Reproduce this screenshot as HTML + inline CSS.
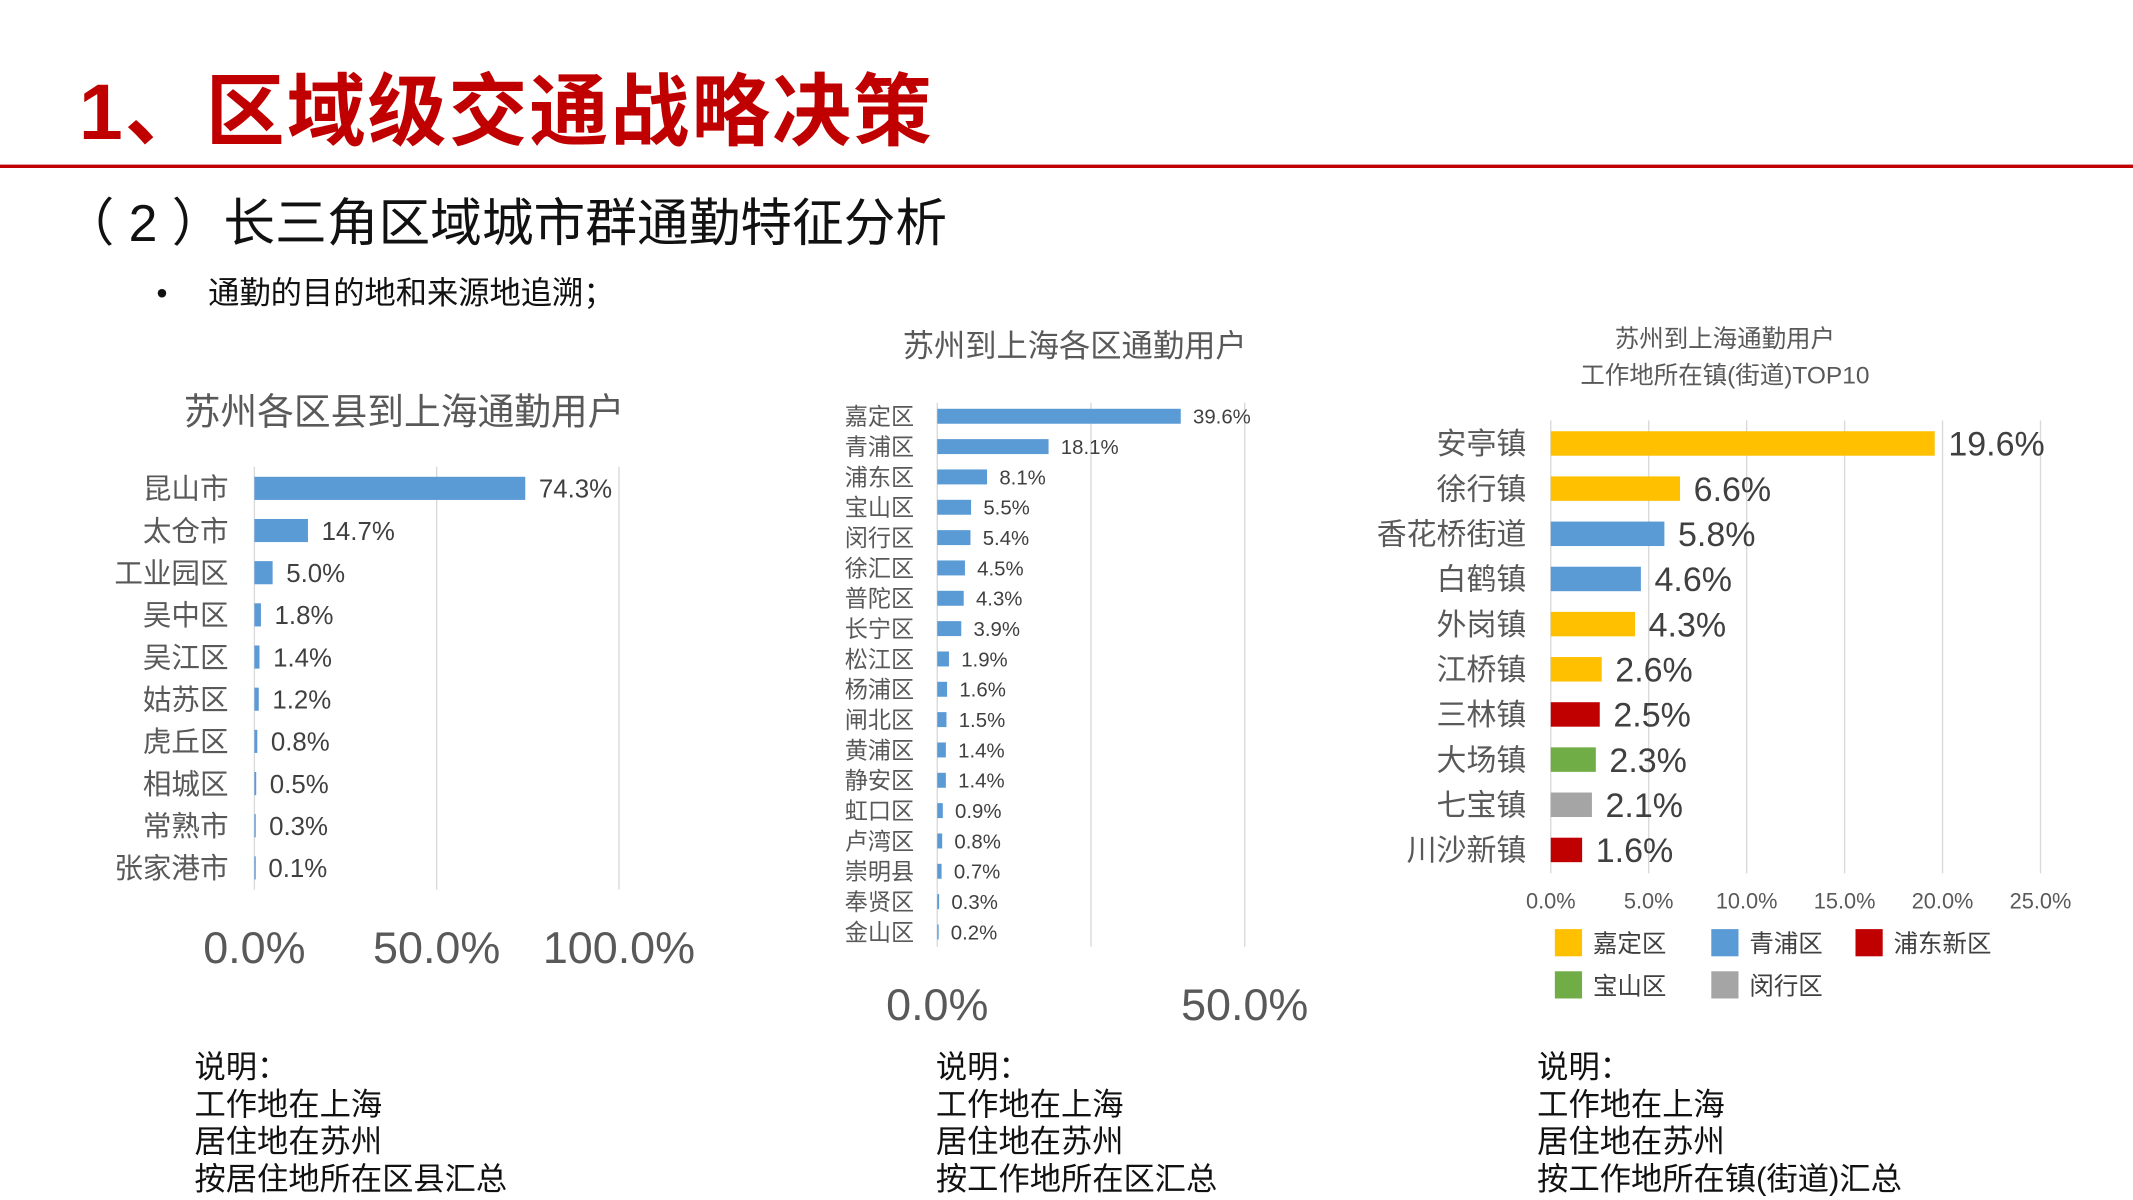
<!DOCTYPE html>
<html><head><meta charset="utf-8"><style>
html,body{margin:0;padding:0;background:#fff;overflow:hidden}
#wrap{width:1568px;height:882px;transform:scale(1.36033);transform-origin:0 0;position:relative}
text{font-family:"Liberation Sans","Noto Sans CJK SC",sans-serif}
</style></head><body>
<div id="wrap">
<svg id="svg" width="1568" height="882" xmlns="http://www.w3.org/2000/svg">
<text x="58" y="102" font-size="58" font-weight="bold" fill="#c00000" letter-spacing="1.5">1、区域级交通战略决策</text>
<rect x="0" y="121" width="1568" height="2.5" fill="#c00000"/>
<text x="46" y="177" font-size="38" fill="#111">（ 2 ）长三角区域城市群通勤特征分析</text>
<text x="115" y="223" font-size="23" fill="#111">•</text>
<text x="153" y="223" font-size="23" fill="#111">通勤的目的地和来源地追溯；</text>
<g id="c1"></g>
<g id="c2"></g>
<g id="c3"></g>
<g id="notes"></g>
</svg></div>
<script>
const c1Cats=["昆山市","太仓市","工业园区","吴中区","吴江区","姑苏区","虎丘区","相城区","常熟市","张家港市"];
const c1Vals=[74.3,14.7,5.0,1.8,1.4,1.2,0.8,0.5,0.3,0.1];
const c1Ticks=[0,50,100];
const c2Cats=["嘉定区","青浦区","浦东区","宝山区","闵行区","徐汇区","普陀区","长宁区","松江区","杨浦区","闸北区","黄浦区","静安区","虹口区","卢湾区","崇明县","奉贤区","金山区"];
const c2Vals=[39.6,18.1,8.1,5.5,5.4,4.5,4.3,3.9,1.9,1.6,1.5,1.4,1.4,0.9,0.8,0.7,0.3,0.2];
const c2Ticks=[0,50];
const c3Cats=["安亭镇","徐行镇","香花桥街道","白鹤镇","外岗镇","江桥镇","三林镇","大场镇","七宝镇","川沙新镇"];
const c3Vals=[19.6,6.6,5.8,4.6,4.3,2.6,2.5,2.3,2.1,1.6];
const c3Groups=["嘉定区","嘉定区","青浦区","青浦区","嘉定区","嘉定区","浦东新区","宝山区","闵行区","浦东新区"];
const c3Ticks=[0,5,10,15,20,25];
const legendNames=["嘉定区","青浦区","浦东新区","宝山区","闵行区"];
const legendColors=["#FFC000","#5B9BD5","#C00000","#70AD47","#A5A5A5"];
const NS="http://www.w3.org/2000/svg";
function mk(p,tag,a,txt){const e=document.createElementNS(NS,tag);for(const k in a)e.setAttribute(k,a[k]);if(txt!==undefined)e.textContent=txt;p.appendChild(e);return e;}
function chart(g,o){
  const sx=v=>o.x0+(v-o.vmin)/(o.vmax-o.vmin)*(o.x1-o.x0);
  const sy=i=>o.yTop+i*o.step;
  o.grid.forEach(v=>{const l=mk(g,"line",{x1:sx(v),x2:sx(v),y1:o.gTop,y2:o.gBot,stroke:"#d9d9d9","stroke-width":1});
    
    });
  o.cats.forEach((c,i)=>{
    const t=mk(g,"text",{x:o.labX,y:sy(i)+o.lfs*0.36,"font-size":o.lfs,fill:"#595959","text-anchor":"end"},c);
    
    
    const col=o.colorOf(i);
    const r=mk(g,"rect",{x:sx(0),y:sy(i)-o.bh/2,width:Math.max(1,sx(o.vals[i])-sx(0)),height:o.bh,fill:col});
    
    
    const v=mk(g,"text",{x:sx(o.vals[i])+o.vgap,y:sy(i)+o.vfs*0.36,"font-size":o.vfs,fill:"#404040"},o.vals[i].toFixed(1)+"%");
    
    
  });
  o.ticks.forEach(v=>{const t=mk(g,"text",{x:sx(v),y:o.tickY,"font-size":o.tfs,fill:"#595959","text-anchor":"middle"},v.toFixed(1)+"%");
    
    });
}
const c1=document.getElementById("c1");
let t=mk(c1,"text",{x:297,y:312,"font-size":27,fill:"#595959","text-anchor":"middle"},"苏州各区县到上海通勤用户");


chart(c1,{cats:c1Cats,vals:c1Vals,ticks:c1Ticks,grid:[0,50,100],vmin:0,vmax:100,x0:187,x1:455,yTop:359,step:31,bh:17,gTop:343,gBot:654,labX:168,lfs:21,vfs:19,vgap:10,tickY:708,tfs:33,colorOf:()=>"#5B9BD5"});
const c2=document.getElementById("c2");
t=mk(c2,"text",{x:790,y:262,"font-size":23,fill:"#595959","text-anchor":"middle"},"苏州到上海各区通勤用户");


chart(c2,{cats:c2Cats,vals:c2Vals,ticks:c2Ticks,grid:[0,25,50],vmin:0,vmax:50,x0:689,x1:915,yTop:306,step:22.3,bh:11,gTop:296,gBot:696,labX:672,lfs:17,vfs:15,vgap:9,tickY:750,tfs:33,colorOf:()=>"#5B9BD5"});
const c3=document.getElementById("c3");
t=mk(c3,"text",{x:1268,y:255,"font-size":18,fill:"#595959","text-anchor":"middle"},"苏州到上海通勤用户");


t=mk(c3,"text",{x:1268,y:282,"font-size":18,fill:"#595959","text-anchor":"middle"},"工作地所在镇(街道)TOP10");


chart(c3,{cats:c3Cats,vals:c3Vals,ticks:c3Ticks,grid:c3Ticks,vmin:0,vmax:25,x0:1140,x1:1500,yTop:326,step:33.2,bh:18,gTop:309,gBot:642,labX:1122,lfs:22,vfs:25,vgap:10,tickY:668,tfs:16,colorOf:i=>legendColors[legendNames.indexOf(c3Groups[i])]});
const lp=[[1143,693],[1258,693],[1364,693],[1143,724],[1258,724]];
legendNames.forEach((n,i)=>{
  const r=mk(c3,"rect",{x:lp[i][0],y:lp[i][1]-10,width:20,height:20,fill:legendColors[i]});
  
  
  const tt=mk(c3,"text",{x:lp[i][0]+28,y:lp[i][1]+7,"font-size":18,fill:"#404040"},n);
  
  
});
const notes=[[143,"按居住地所在区县汇总"],[688,"按工作地所在区汇总"],[1130,"按工作地所在镇(街道)汇总"]];
const ng=document.getElementById("notes");
notes.forEach(n=>{["说明：","工作地在上海","居住地在苏州",n[1]].forEach((s,j)=>{
  const tt=mk(ng,"text",{x:n[0],y:792+j*27.5,"font-size":23,fill:"#111"},s);
  
  
});});
</script>
</body></html>
